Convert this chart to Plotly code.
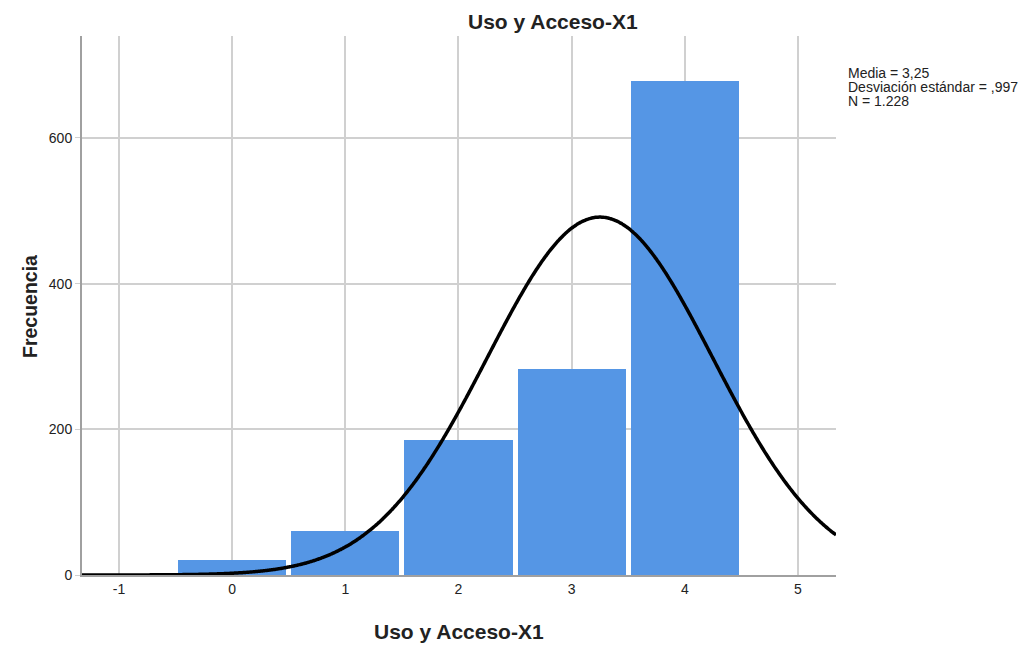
import numpy as np
import plotly.graph_objects as go

# Data
categories = [0, 1, 2, 3, 4]
frequencies = [21, 60, 186, 283, 678]
mean = 3.25
sd = 0.997
n = 1228
stats_lines = ["Media = 3,25", "Desviación estándar = ,997", "N = 1.228"]
x_ticks = [-1, 0, 1, 2, 3, 4, 5]
y_ticks = [0, 200, 400, 600]
title = "Uso y Acceso-X1"
y_title = "Frecuencia"

W, H = 1028, 648
L, R, T, B = 74, 200, 28, 81
PW, PH = W - L - R, H - T - B
xr = [-1.327, 5.336]
yr = [0, 740]


def px(x):
    return (x - L) / PW


def py(y):
    return 1 - (y - T) / PH


xc = np.linspace(xr[0], xr[1], 600)
yc = n * 1.0 / (sd * np.sqrt(2 * np.pi)) * np.exp(-0.5 * ((xc - mean) / sd) ** 2)

fig = go.Figure()
fig.add_trace(go.Bar(x=categories, y=frequencies, width=0.955,
                     marker=dict(color="#5596E5", line=dict(width=0)),
                     showlegend=False, hoverinfo="x+y"))
fig.add_trace(go.Scatter(x=xc, y=yc, mode="lines",
                         line=dict(color="black", width=3.5, simplify=False, shape="spline"),
                         showlegend=False))

font = "Liberation Sans, Arial, sans-serif"
fig.update_layout(
    width=W, height=H,
    margin=dict(l=L, r=R, t=T, b=B),
    paper_bgcolor="white", plot_bgcolor="white",
    font=dict(family=font, size=14, color="#222"),
    bargap=0,
)
fig.update_xaxes(range=xr, tickvals=x_ticks, ticktext=[str(v) for v in x_ticks],
                 showgrid=True, gridcolor="#d0d0d0", gridwidth=1.5,
                 zeroline=False, showline=True, linecolor="#a0a0a0", linewidth=2,
                 ticks="", tickfont=dict(size=14, color="#222"))
fig.update_yaxes(range=yr, tickvals=y_ticks, ticktext=[str(v) for v in y_ticks],
                 showgrid=True, gridcolor="#d0d0d0", gridwidth=1.5,
                 zeroline=False, showline=True, linecolor="#a0a0a0", linewidth=2,
                 ticks="outside", ticklen=5, tickcolor="#d0d0d0",
                 tickfont=dict(size=14, color="#222"))

# Title and axis titles
fig.add_annotation(text="<b>" + title + "</b>", xref="paper", yref="paper",
                   x=px(544.5), y=py(14), xanchor="center", yanchor="middle",
                   showarrow=False, font=dict(size=21, color="#222", family=font))
fig.add_annotation(text="<b>" + title + "</b>", xref="paper", yref="paper",
                   x=px(451), y=py(623), xanchor="center", yanchor="middle",
                   showarrow=False, font=dict(size=21, color="#222", family=font))
fig.add_annotation(text="<b>" + y_title + "</b>", xref="paper", yref="paper",
                   x=px(22), y=py(299), xanchor="center", yanchor="middle",
                   textangle=-90, showarrow=False,
                   font=dict(size=19.5, color="#222", family=font))

for i, line in enumerate(stats_lines):
    fig.add_annotation(text=line, xref="paper", yref="paper",
                       x=px(838), y=py(65 + 14 * i), xanchor="left", yanchor="middle",
                       align="left", showarrow=False,
                       font=dict(size=14, color="#222", family=font))

fig.write_html("out.html")
